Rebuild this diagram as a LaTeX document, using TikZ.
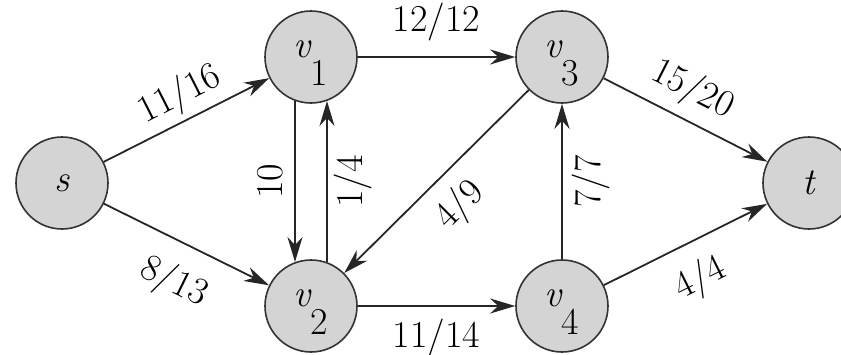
\documentclass[tikz,border=0pt]{standalone}
\usepackage{fontspec}
\usetikzlibrary{arrows.meta}
\newcommand\vlab[1]{\smash{v\raisebox{-28pt}{\upshape #1}}}
\begin{document}
\begin{tikzpicture}[x=1pt,y=-1pt,
  vertex/.style={circle, draw=black!80, line width=1.6pt, fill=black!17, minimum size=92pt, inner sep=0pt, font=\fontsize{38}{40}\selectfont\itshape},
  flow/.style={line width=1.8pt, draw=black!85, -{Stealth[length=25pt,width=15pt,inset=8pt]}},
  rflow/.style={line width=1.8pt, draw=black!85, {Stealth[length=25pt,width=15pt,inset=8pt]}-},
  lbl/.style={font=\fontsize{38}{40}\selectfont, inner sep=0pt, text=black}]
\useasboundingbox (0,0) rectangle (841,354);
\node[vertex] (s)  at (62,183)  {s};
\node[vertex] (v1) at (311,57)  {\vlab{1}};
\node[vertex] (v3) at (562,57)  {\vlab{3}};
\node[vertex] (v2) at (311,306) {\vlab{2}};
\node[vertex] (v4) at (562,306) {\vlab{4}};
\node[vertex] (t)  at (809,183) {t};
\draw[flow] (s) -- node[lbl, sloped, above=5pt, pos=0.53] {11/16} (v1);
\draw[flow] (s) -- node[lbl, sloped, below=20pt, pos=0.53] {8/13} (v2);
\draw[flow] (v1) -- node[lbl, above=15pt] {12/12} (v3);
\draw[flow] (v2) -- node[lbl, below=12pt] {11/14} (v4);
\draw[rflow] (v2.110) -- node[lbl, sloped, above=11pt] {10} (v1.-110);
\draw[flow] (v2.70) -- node[lbl, sloped, below=6pt] {1/4} (v1.-70);
\draw[flow] (v3) -- node[lbl, sloped, below=14pt] {4/9} (v2);
\draw[flow] (v4) -- node[lbl, sloped, below=9pt] {7/7} (v3);
\draw[flow] (v3) -- node[lbl, sloped, above=10pt, pos=0.46] {15/20} (t);
\draw[flow] (v4) -- node[lbl, sloped, below=18pt, pos=0.49] {4/4} (t);
\end{tikzpicture}
\end{document}
